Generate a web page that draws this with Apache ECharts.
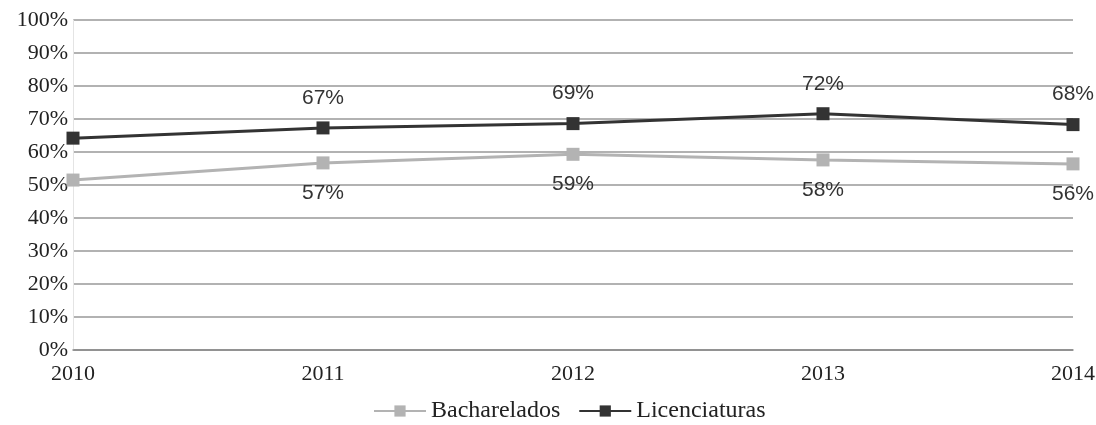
<!DOCTYPE html>
<html><head><meta charset="utf-8">
<script src="https://cdn.jsdelivr.net/npm/echarts@6/dist/echarts.min.js"></script>
<style>html,body{margin:0;padding:0;background:#fff}#c{width:1096px;height:425px}</style>
</head><body><div id="c"></div>
<script>
const categories = ['2010','2011','2012','2013','2014'];
const bacharelados = [51.5, 56.7, 59.3, 57.6, 56.4];
const licenciaturas = [64.2, 67.3, 68.6, 71.6, 68.3];
const bachLabels = ['', '57%', '59%', '58%', '56%'];
const licLabels = ['', '67%', '69%', '72%', '68%'];
const yTicks = [0,10,20,30,40,50,60,70,80,90,100];

const serif = 'Liberation Serif';
const sans = 'Liberation Sans';
const chart = echarts.init(document.getElementById('c'));
chart.setOption({
  animation: false,
  grid: {left: 73, right: 23, top: 20, bottom: 75, containLabel: false, outerBoundsMode: 'none'},
  legend: {
    bottom: -3, left: 368, itemWidth: 52, itemHeight: 14, itemGap: 18,
    textStyle: {fontFamily: serif, fontSize: 24, color: '#222'},
    data: ['Bacharelados','Licenciaturas']
  },
  xAxis: {
    type: 'category', data: categories, boundaryGap: false,
    axisLine: {show: true, lineStyle: {color: '#888', width: 1.5}},
    axisTick: {show: false},
    axisLabel: {fontFamily: serif, fontSize: 22, color: '#222', margin: 13}
  },
  yAxis: {
    type: 'value', min: 0, max: 100, interval: 10,
    axisLine: {show: true, lineStyle: {color: '#e4e4e4', width: 1}},
    axisTick: {show: false},
    axisLabel: {fontFamily: serif, fontSize: 22, color: '#222', margin: 5,
      formatter: v => yTicks.includes(v) ? v + '%' : ''},
    splitLine: {lineStyle: {color: '#999', width: 1.5}}
  },
  series: [
    {
      name: 'Bacharelados', type: 'line', data: bacharelados,
      symbol: 'rect', symbolSize: 13,
      lineStyle: {color: '#b3b3b3', width: 3},
      itemStyle: {color: '#b3b3b3'},
      label: {show: true, position: 'bottom', distance: 13,
        fontFamily: sans, fontSize: 21, color: '#333',
        formatter: p => bachLabels[p.dataIndex]}
    },
    {
      name: 'Licenciaturas', type: 'line', data: licenciaturas,
      symbol: 'rect', symbolSize: 13,
      lineStyle: {color: '#333', width: 3},
      itemStyle: {color: '#333'},
      label: {show: true, position: 'top', distance: 13,
        fontFamily: sans, fontSize: 21, color: '#333',
        formatter: p => licLabels[p.dataIndex]}
    }
  ]
});
</script></body></html>
